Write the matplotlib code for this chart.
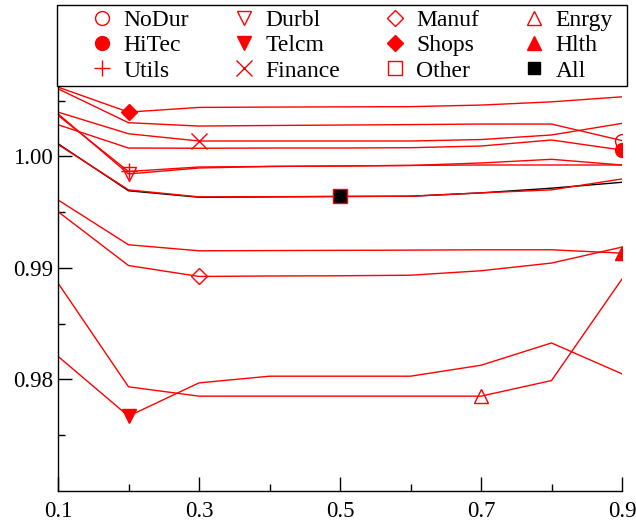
import matplotlib
matplotlib.use("Agg")
import matplotlib.pyplot as plt
from matplotlib.patches import Rectangle
from matplotlib.ticker import FixedLocator

x = [0.1, 0.2, 0.3, 0.4, 0.5, 0.6, 0.7, 0.8, 0.9]

NoDur   = [1.00605, 1.00301, 1.00271, 1.00276, 1.00280, 1.00284, 1.00289, 1.00289, 1.00141]
HiTec   = [1.00283, 1.00074, 1.00072, 1.00074, 1.00074, 1.00077, 1.00092, 1.00146, 1.00056]
Utils   = [1.00367, 0.99864, 0.99904, 0.99909, 0.99913, 0.99918, 0.99940, 0.99973, 0.99922]
Durbl   = [1.00381, 0.99842, 0.99895, 0.99909, 0.99913, 0.99918, 0.99922, 0.99922, 0.99922]
Telcm   = [0.98207, 0.97671, 0.97969, 0.98029, 0.98029, 0.98029, 0.98127, 0.98327, 0.98050]
Finance = [1.00396, 1.00202, 1.00137, 1.00137, 1.00137, 1.00137, 1.00150, 1.00191, 1.00295]
Manuf   = [0.99504, 0.99021, 0.98923, 0.98927, 0.98929, 0.98934, 0.98974, 0.99043, 0.99186]
Shops   = [1.00620, 1.00396, 1.00438, 1.00441, 1.00443, 1.00445, 1.00459, 1.00488, 1.00533]
Other   = [1.00106, 0.99699, 0.99636, 0.99638, 0.99640, 0.99642, 0.99672, 0.99699, 0.99797]
Enrgy   = [0.98864, 0.97934, 0.97850, 0.97850, 0.97850, 0.97850, 0.97850, 0.97990, 0.98900]
Hlth    = [0.99609, 0.99207, 0.99153, 0.99155, 0.99157, 0.99159, 0.99162, 0.99162, 0.99132]
All     = [1.00113, 0.99691, 0.99633, 0.99636, 0.99640, 0.99642, 0.99672, 0.99714, 0.99767]

x_major = [0.1, 0.3, 0.5, 0.7, 0.9]
x_minor = [0.2, 0.4, 0.6, 0.8]
y_major = [0.98, 0.99, 1.00]
y_minor = [0.975, 0.985, 0.995, 1.005]

plt.rcParams['font.family'] = ['Liberation Serif', 'DejaVu Serif']

W, H = 636, 523
fig = plt.figure(figsize=(W / 100, H / 100), dpi=100)
ax = fig.add_axes([58 / W, 1 - 491 / H, (622 - 58) / W, (491 - 86) / H])

red = '#ff0000'
# (name, data, marker, filled, marker index, size)
series = [
    ('All', All, 's', True, 4, 9),
    ('NoDur', NoDur, 'o', False, 8, 10),
    ('HiTec', HiTec, 'o', True, 8, 10),
    ('Utils', Utils, '+', False, 1, 12),
    ('Durbl', Durbl, 'v', False, 1, 10),
    ('Telcm', Telcm, 'v', True, 1, 10),
    ('Finance', Finance, 'x', False, 2, 11),
    ('Manuf', Manuf, 'D', False, 2, 8.5),
    ('Shops', Shops, 'D', True, 1, 8.5),
    ('Other', Other, 's', False, 4, 10),
    ('Enrgy', Enrgy, '^', False, 6, 10),
    ('Hlth', Hlth, '^', True, 8, 10),
]

handles = {}
for name, data, mk, filled, idx, ms in series:
    col = 'black' if name == 'All' else red
    ax.plot(x, data, color=col, lw=1.0, zorder=2)
    ax.plot([x[idx]], [data[idx]], linestyle='none', marker=mk, ms=ms,
            mec=col, mfc=(col if filled else 'none'), mew=1.0, zorder=3)
    h, = ax.plot([], [], linestyle='none', marker=mk, ms=ms, mec=col,
                 mfc=(col if filled else 'none'), mew=1.0)
    handles[name] = h

order = ['NoDur', 'HiTec', 'Utils', 'Durbl', 'Telcm', 'Finance',
         'Manuf', 'Shops', 'Other', 'Enrgy', 'Hlth', 'All']

ax.set_xlim(0.1, 0.9)
ax.set_ylim(0.9700, 1.0063)
ax.xaxis.set_major_locator(FixedLocator(x_major))
ax.xaxis.set_minor_locator(FixedLocator(x_minor))
ax.yaxis.set_major_locator(FixedLocator(y_major))
ax.yaxis.set_minor_locator(FixedLocator(y_minor))
ax.set_xticklabels(['%.1f' % v for v in x_major])
ax.set_yticklabels(['%.2f' % v for v in y_major])
ax.tick_params(which='major', direction='in', length=10, width=1.0, labelsize=16.5)
ax.tick_params(axis='x', which='major', pad=7.5)
ax.tick_params(axis='y', which='major', pad=3.5)
ax.tick_params(which='minor', direction='in', length=5, width=1.0)
ax.spines['top'].set_visible(False)
ax.spines['right'].set_visible(False)
for s in ('left', 'bottom'):
    ax.spines[s].set_linewidth(1.0)

# legend box
fig.patches.append(Rectangle((57 / W, 1 - 86 / H), 570 / W, 81 / H,
                             transform=fig.transFigure, fill=True,
                             facecolor='white', edgecolor='black', lw=1.0, zorder=5))
leg = fig.legend([handles[n] for n in order], order, loc='center',
                 bbox_to_anchor=(90.5 / W, 1 - 86 / H, (613 - 90.5) / W, 81 / H),
                 mode='expand', ncol=4, frameon=False, fontsize=17,
                 handlelength=1.0, handletextpad=0.4, borderpad=0.0,
                 labelspacing=0.16, borderaxespad=0.0)
leg.set_zorder(6)

fig.savefig('out.png', dpi=100)
